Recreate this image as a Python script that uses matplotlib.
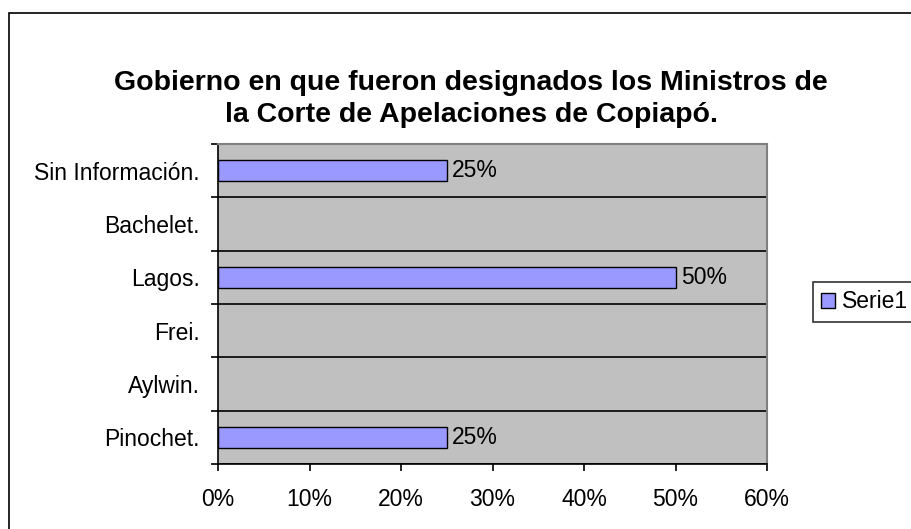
import matplotlib
matplotlib.use("Agg")
import matplotlib.pyplot as plt
from matplotlib.patches import Rectangle, Patch
from matplotlib.ticker import FuncFormatter, MultipleLocator

categories = ["Pinochet.", "Aylwin.", "Frei.", "Lagos.", "Bachelet.", "Sin Información."]
values = [25, 0, 0, 50, 0, 25]
labels = ["25%", "", "", "50%", "", "25%"]
series_name = "Serie1"
title = "Gobierno en que fueron designados los Ministros de\nla Corte de Apelaciones de Copiapó."

plt.rcParams['font.family'] = ['Liberation Sans', 'DejaVu Sans']

fig = plt.figure(figsize=(9.11, 5.29), dpi=100)
fig.patch.set_facecolor('white')
fig.add_artist(Rectangle((9/911, -0.1), 1.2, 1 - 13/529 + 0.1, transform=fig.transFigure,
                         fill=False, edgecolor='black', linewidth=1.2))

ax = fig.add_axes([218/911, 1 - 464/529, 549/911, 320/529])
ax.set_facecolor('#C0C0C0')
y = list(range(len(categories)))
edge = ['black' if v > 0 else 'none' for v in values]
bars = ax.barh(y, values, height=0.4, color='#9999FF', edgecolor=edge, linewidth=1.0,
               label=series_name, zorder=3)
for yi, v, lab in zip(y, values, labels):
    if lab:
        ax.text(v + 0.6, yi, lab, va='center', ha='left', fontsize=16.5, zorder=4)

ax.set_xlim(0, 60)
ax.set_ylim(-0.5, len(categories) - 0.5)
ax.xaxis.set_major_locator(MultipleLocator(10))
ax.xaxis.set_major_formatter(FuncFormatter(lambda v, p: f"{int(v)}%"))
ax.set_yticks(y)
ax.set_yticklabels(categories)
ax.set_yticks([i - 0.5 for i in range(len(categories) + 1)], minor=True)
ax.tick_params(axis='y', which='major', length=0, labelsize=16.5, pad=13)
ax.tick_params(axis='y', which='minor', length=5, width=1.2, direction='out')
ax.tick_params(axis='x', which='major', length=5, width=1.2, direction='out', labelsize=16.5, pad=12)
ax.grid(axis='y', which='minor', color='black', linewidth=1.2, zorder=1)
ax.set_axisbelow(True)
for s in ['top', 'right']:
    ax.spines[s].set_color('#808080')
    ax.spines[s].set_linewidth(1.5)
for s in ['left', 'bottom']:
    ax.spines[s].set_color('black')
    ax.spines[s].set_linewidth(1.2)

fig.text(471/911, 1 - 99/529, title, ha='center', va='center', fontsize=20.5, fontweight='bold',
         linespacing=1.3)

handle = Patch(facecolor='#9999FF', edgecolor='black', linewidth=1.0)
leg = fig.legend(handles=[handle], labels=[series_name], loc='center left',
                 bbox_to_anchor=(813/911, 1 - 302/529), frameon=True, fancybox=False,
                 fontsize=16.5, handlelength=0.6, handleheight=0.6, handletextpad=0.3,
                 borderpad=0.35, borderaxespad=0)
leg.get_frame().set_edgecolor('black')
leg.get_frame().set_linewidth(1.2)

fig.savefig("out.png", dpi=100)
